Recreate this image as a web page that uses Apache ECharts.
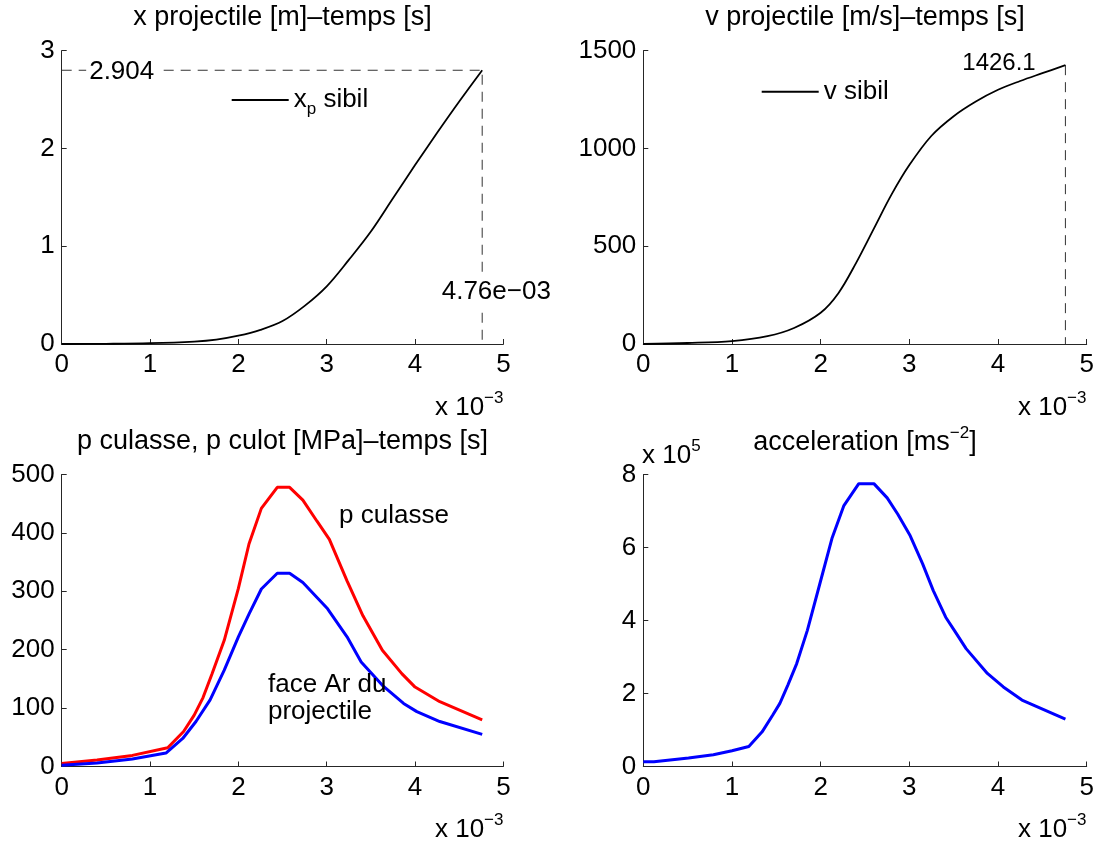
<!DOCTYPE html>
<html><head><meta charset="utf-8">
<script src="https://cdn.jsdelivr.net/npm/echarts@6/dist/echarts.min.js"></script>
<style>html,body{margin:0;padding:0;background:#fff}#c{width:1095px;height:845px}</style>
</head><body><div id="c"></div>
<script>
// ---- data (time in units of 1e-3 s) ----
const timeTicks = [0, 1, 2, 3, 4, 5];

const tX = [0, 0.5, 1.0, 1.5, 1.75, 2.0, 2.25, 2.5, 2.75, 3.0, 3.25, 3.5, 3.75, 4.0, 4.25, 4.5, 4.76];
const xProj = [0, 0.002, 0.008, 0.025, 0.045, 0.085, 0.145, 0.235, 0.39, 0.59, 0.86, 1.15, 1.49, 1.83, 2.16, 2.48, 2.80];

const tV = [0, 0.5, 1.0, 1.4, 1.7, 2.0, 2.2, 2.4, 2.6, 2.8, 3.0, 3.25, 3.5, 3.75, 4.0, 4.25, 4.5, 4.76];
const vProj = [0, 5, 15, 40, 82, 160, 260, 415, 590, 765, 915, 1065, 1165, 1240, 1300, 1345, 1385, 1426];

const tPc = [0, 0.4, 0.8, 1.2, 1.38, 1.5, 1.6, 1.7, 1.84, 2.0, 2.12, 2.26, 2.44, 2.58, 2.73, 2.89, 3.03, 3.23, 3.41, 3.63, 3.85, 4.0, 4.28, 4.76];
const pCulasse = [5, 11, 19, 32, 60, 88, 118, 158, 216, 305, 381, 442, 478, 478, 456, 420, 389, 318, 258, 199, 159, 136, 111, 80];

const tPb = [0, 0.4, 0.8, 1.18, 1.37, 1.52, 1.68, 1.84, 2.0, 2.12, 2.26, 2.44, 2.58, 2.73, 3.01, 3.23, 3.39, 3.63, 3.87, 4.02, 4.28, 4.76];
const pCulot = [2, 6, 13, 23, 48, 77, 114, 165, 222, 261, 304, 331, 331, 315, 270, 222, 179, 139, 108, 94, 77, 55];

const tA = [0, 0.12, 0.51, 0.79, 1.0, 1.19, 1.34, 1.46, 1.54, 1.63, 1.73, 1.85, 1.99, 2.13, 2.26, 2.43, 2.60, 2.75, 2.87, 3.01, 3.15, 3.27, 3.41, 3.52, 3.64, 3.88, 4.06, 4.27, 4.76];
const accel = [0.13, 0.13, 0.23, 0.32, 0.43, 0.55, 0.95, 1.41, 1.73, 2.23, 2.82, 3.73, 5.0, 6.27, 7.14, 7.75, 7.75, 7.36, 6.91, 6.32, 5.55, 4.82, 4.09, 3.68, 3.23, 2.55, 2.18, 1.82, 1.30];

const yTicksX = [0, 1, 2, 3];
const yTicksV = [0, 500, 1000, 1500];
const yTicksP = [0, 100, 200, 300, 400, 500];
const yTicksA = [0, 2, 4, 6, 8];

const labelXEnd = '2.904';
const labelTEnd = '4.76e\u221203';
const labelVEnd = '1426.1';

const titles = [
  'x projectile [m]\u2013temps [s]',
  'v projectile [m/s]\u2013temps [s]',
  'p culasse, p culot [MPa]\u2013temps [s]'
];

// ---- build ----
const FONT = '"Liberation Sans", Arial, Helvetica, sans-serif';
const AX = '#262626';
const zip = (a, b) => a.map((v, i) => [v, b[i]]);
const last = a => a[a.length - 1];

const grids = [
  {left: 61.7, top: 50.7, width: 441.7, height: 293.3},
  {left: 643.3, top: 50.7, width: 443.4, height: 293.3},
  {left: 61.7, top: 474.5, width: 441.7, height: 292},
  {left: 643.3, top: 474.5, width: 443.4, height: 292}
].map(g => Object.assign({outerBoundsMode: 'none', containLabel: false}, g));

function xAx(i) {
  return {
    type: 'value', gridIndex: i,
    min: timeTicks[0], max: last(timeTicks), interval: timeTicks[1] - timeTicks[0],
    axisLine: {show: true, onZero: false, lineStyle: {color: AX, width: 1}},
    axisTick: {show: true, inside: true, length: 5, lineStyle: {color: AX}},
    axisLabel: {fontSize: 26, color: '#000', fontFamily: FONT, margin: 8, formatter: v => String(v)},
    splitLine: {show: false}
  };
}
function yAx(i, ticks) {
  return {
    type: 'value', gridIndex: i,
    min: ticks[0], max: last(ticks), interval: ticks[1] - ticks[0],
    axisLine: {show: true, onZero: false, lineStyle: {color: AX, width: 1}},
    axisTick: {show: true, inside: true, length: 5, lineStyle: {color: AX}},
    axisLabel: {fontSize: 26, color: '#000', fontFamily: FONT, margin: 7, formatter: v => String(v)},
    splitLine: {show: false}
  };
}

const dashStyle = {color: '#333', width: 1, type: [10, 7]};
const base = {type: 'line', showSymbol: false, symbol: 'none', silent: true, animation: false};

const series = [
  Object.assign({}, base, {name: 'xp', xAxisIndex: 0, yAxisIndex: 0, data: zip(tX, xProj), smooth: 0.35,
    lineStyle: {color: '#000', width: 1.8}, itemStyle: {color: '#000'}, z: 3}),
  Object.assign({}, base, {name: 'guideX', xAxisIndex: 0, yAxisIndex: 0,
    data: [[0, last(xProj)], [last(tX), last(xProj)], [last(tX), 0]],
    lineStyle: dashStyle, z: 2}),
  Object.assign({}, base, {name: 'v sibil', xAxisIndex: 1, yAxisIndex: 1, data: zip(tV, vProj), smooth: 0.35,
    lineStyle: {color: '#000', width: 1.8}, itemStyle: {color: '#000'}, z: 3}),
  Object.assign({}, base, {name: 'guideV', xAxisIndex: 1, yAxisIndex: 1,
    data: [[last(tV), last(vProj)], [last(tV), 0]],
    lineStyle: dashStyle, z: 2}),
  Object.assign({}, base, {name: 'p culasse', xAxisIndex: 2, yAxisIndex: 2, data: zip(tPc, pCulasse),
    lineStyle: {color: '#ff0000', width: 3}}),
  Object.assign({}, base, {name: 'p culot', xAxisIndex: 2, yAxisIndex: 2, data: zip(tPb, pCulot),
    lineStyle: {color: '#0000ff', width: 3}}),
  Object.assign({}, base, {name: 'acceleration', xAxisIndex: 3, yAxisIndex: 3, data: zip(tA, accel),
    lineStyle: {color: '#0000ff', width: 3}})
];

function txt(x, y, text, align, extra) {
  return {type: 'text', x: x, y: y, z: 10, silent: true,
    style: Object.assign({text: text, fontSize: 26, fontFamily: FONT, fill: '#000',
      align: align || 'left', verticalAlign: 'middle'}, extra || {})};
}
const supRich = {
  a: {fontSize: 26, fontFamily: FONT, fill: '#000', lineHeight: 36},
  t: {fontSize: 27, fontFamily: FONT, fill: '#000', lineHeight: 36},
  s: {fontSize: 17, fontFamily: FONT, fill: '#000', lineHeight: 12, verticalAlign: 'top'}
};
const x10m3 = '{a|x 10}{s|\u22123}';

const graphic = [
  txt(282.5, 18, titles[0], 'center', {fontSize: 27}),
  txt(865, 18, titles[1], 'center', {fontSize: 27}),
  txt(282.5, 441.5, titles[2], 'center', {fontSize: 27}),
  txt(865, 443, '{t|acceleration [ms}{s|\u22122}{t|]}', 'center', {rich: supRich}),
  txt(503.5, 408, x10m3, 'right', {rich: supRich}),
  txt(1086.5, 408, x10m3, 'right', {rich: supRich}),
  txt(503.5, 829.5, x10m3, 'right', {rich: supRich}),
  txt(1086.5, 829.5, x10m3, 'right', {rich: supRich}),
  txt(642, 456, '{a|x 10}{s|5}', 'left', {rich: supRich}),
  txt(121.7, 71.7, labelXEnd, 'center', {backgroundColor: '#fff', padding: [0, 3]}),
  txt(496.3, 291.7, labelTEnd, 'center', {backgroundColor: '#fff', padding: [2, 1]}),
  txt(999, 63.3, labelVEnd, 'center', {fontSize: 24}),
  txt(339, 516, 'p culasse', 'left'),
  txt(268, 698.5, 'face Ar du\nprojectile', 'left', {lineHeight: 27})
];

const legend = [
  {data: ['xp'], left: 231.7, top: 87, itemWidth: 57, itemHeight: 2, icon: 'rect',
   selectedMode: false, padding: 0,
   formatter: () => '{a|x}{b|p}{a| sibil}',
   textStyle: {fontSize: 26, fontFamily: FONT, color: '#000', rich: {
     a: {fontSize: 26, fontFamily: FONT, color: '#000', lineHeight: 36},
     b: {fontSize: 17, fontFamily: FONT, color: '#000', lineHeight: 12, verticalAlign: 'bottom'}}}},
  {data: ['v sibil'], left: 761.7, top: 73.7, itemWidth: 57, itemHeight: 2, icon: 'rect',
   selectedMode: false, padding: 0,
   textStyle: {fontSize: 26, fontFamily: FONT, color: '#000', lineHeight: 36}}
];

const chart = echarts.init(document.getElementById('c'), null, {renderer: 'canvas'});
chart.setOption({
  animation: false,
  backgroundColor: '#fff',
  grid: grids,
  xAxis: [xAx(0), xAx(1), xAx(2), xAx(3)],
  yAxis: [yAx(0, yTicksX), yAx(1, yTicksV), yAx(2, yTicksP), yAx(3, yTicksA)],
  legend: legend,
  series: series,
  graphic: graphic
});
</script>
</body></html>
